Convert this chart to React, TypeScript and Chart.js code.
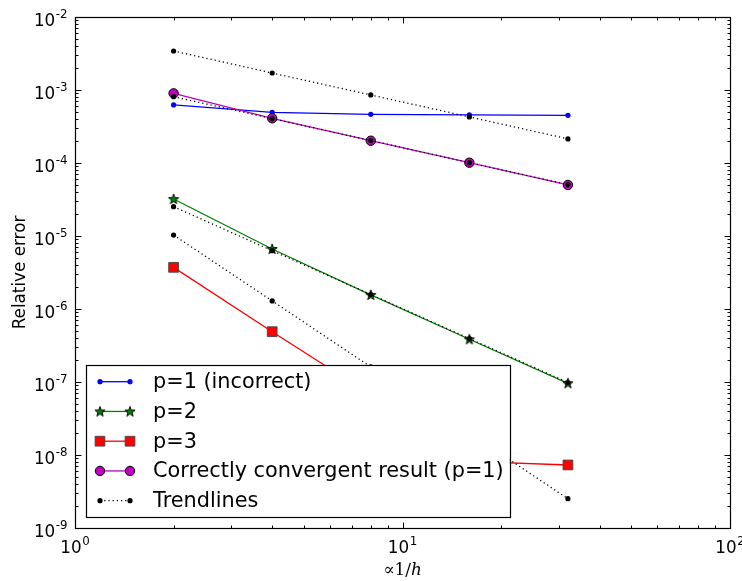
import { useEffect, useRef } from "react";
import { Chart, registerables } from "chart.js";

Chart.register(...registerables);

// Grid resolution (proportional to 1/h)
const resolution = [2, 4, 8, 16, 32];

// Measured relative errors
const errP1Incorrect = [6.24e-4, 4.94e-4, 4.65e-4, 4.55e-4, 4.5e-4];
const errP2 = [3.21e-5, 6.64e-6, 1.56e-6, 3.85e-7, 9.6e-8];
const errP3 = [3.72e-6, 4.89e-7, 6.7e-8, 8.2e-9, 7.3e-9];
const errP1Correct = [9.0e-4, 4.1e-4, 2.02e-4, 1.01e-4, 5.0e-5];

// Reference slopes
const trendFirstUpper = [3.42e-3, 1.71e-3, 8.55e-4, 4.28e-4, 2.14e-4];
const trendFirstLower = [8.1e-4, 4.05e-4, 2.03e-4, 1.01e-4, 5.06e-5];
const trendSecond = [2.52e-5, 6.3e-6, 1.58e-6, 3.94e-7, 9.85e-8];
const trendThird = [1.03e-5, 1.29e-6, 1.61e-7, 2.01e-8, 2.52e-9];

// Axis decades (powers of ten)
const xTickExponents = [0, 1, 2];
const yTickExponents = [-9, -8, -7, -6, -5, -4, -3, -2];

const legendLabels = [
  "p=1 (incorrect)",
  "p=2",
  "p=3",
  "Correctly convergent result (p=1)",
  "Trendlines",
];

const SANS = '"DejaVu Sans", sans-serif';
const SERIF = '"DejaVu Serif", serif';

function makeStar(): HTMLCanvasElement {
  const c = document.createElement("canvas");
  c.width = 14;
  c.height = 14;
  const ctx = c.getContext("2d")!;
  const cx = 7, cy = 7.3, R = 5.4, r = 2.2;
  ctx.beginPath();
  for (let i = 0; i < 10; i++) {
    const a = -Math.PI / 2 + (i * Math.PI) / 5;
    const rad = i % 2 === 0 ? R : r;
    const px = cx + rad * Math.cos(a);
    const py = cy + rad * Math.sin(a);
    if (i === 0) ctx.moveTo(px, py);
    else ctx.lineTo(px, py);
  }
  ctx.closePath();
  ctx.fillStyle = "#008000";
  ctx.fill();
  ctx.lineWidth = 0.9;
  ctx.strokeStyle = "#000";
  ctx.stroke();
  return c;
}

const toPoints = (ys: number[]) => resolution.map((x, i) => ({ x, y: ys[i] }));

type Marker = {
  style: any;
  radius: number;
  fill: string;
  edge: string;
  edgeWidth: number;
};

function drawMarker(ctx: CanvasRenderingContext2D, m: Marker, x: number, y: number) {
  if (m.style instanceof HTMLCanvasElement) {
    ctx.drawImage(m.style, x - m.style.width / 2, y - m.style.height / 2);
    return;
  }
  ctx.beginPath();
  if (m.style === "rect") {
    const s = m.radius * Math.SQRT1_2;
    ctx.rect(x - s, y - s, 2 * s, 2 * s);
  } else {
    ctx.arc(x, y, m.radius, 0, Math.PI * 2);
  }
  ctx.fillStyle = m.fill;
  ctx.fill();
  if (m.edgeWidth > 0) {
    ctx.lineWidth = m.edgeWidth;
    ctx.strokeStyle = m.edge;
    ctx.stroke();
  }
}

function drawPower(
  ctx: CanvasRenderingContext2D,
  exp: number,
  anchorX: number,
  baseline: number,
  align: "right" | "center"
) {
  const base = "10";
  const sup = exp < 0 ? "-" + Math.abs(exp) : String(exp);
  ctx.font = `16.8px ${SANS}`;
  const bw = ctx.measureText(base).width;
  ctx.font = `11.8px ${SANS}`;
  const sw = ctx.measureText(sup).width;
  const total = bw + sw + 0.5;
  const left = align === "right" ? anchorX - total : anchorX - total / 2;
  ctx.textAlign = "left";
  ctx.textBaseline = "alphabetic";
  ctx.fillStyle = "#000";
  ctx.font = `16.8px ${SANS}`;
  ctx.fillText(base, left, baseline);
  ctx.font = `11.8px ${SANS}`;
  ctx.fillText(sup, left + bw + 0.5, baseline - 8);
}

export default function App() {
  const canvasRef = useRef<HTMLCanvasElement | null>(null);

  useEffect(() => {
    const canvas = canvasRef.current;
    if (!canvas) return;

    const star = makeStar();

    const markers: Marker[] = [
      { style: "circle", radius: 2.6, fill: "#0000ff", edge: "#0000ff", edgeWidth: 0 },
      { style: star, radius: 5, fill: "#008000", edge: "#000", edgeWidth: 0.9 },
      { style: "rect", radius: 6.9, fill: "#ff0000", edge: "#444", edgeWidth: 0.9 },
      { style: "circle", radius: 4.7, fill: "#bf00bf", edge: "#000", edgeWidth: 1 },
      { style: "circle", radius: 2.6, fill: "#000", edge: "#000", edgeWidth: 0 },
    ];
    const lineColors = ["#0000ff", "#008000", "#ff0000", "#bf00bf", "#000"];

    const series = (
      ys: number[],
      idx: number,
      order: number,
      dashed = false
    ) => {
      const m = markers[idx];
      return {
        data: toPoints(ys),
        borderColor: lineColors[idx],
        borderWidth: 1.3,
        borderDash: dashed ? [1.2, 3] : [],
        pointStyle: m.style,
        pointRadius: m.radius,
        pointHoverRadius: m.radius,
        pointBackgroundColor: m.fill,
        pointBorderColor: m.edge,
        pointBorderWidth: m.edgeWidth,
        fill: false,
        tension: 0,
        order,
      };
    };

    const axesPlugin = {
      id: "mplAxes",
      afterDatasetsDraw(chart: any) {
        const ctx: CanvasRenderingContext2D = chart.ctx;
        const area = chart.chartArea;
        ctx.save();
        ctx.font = `20.8px ${SANS}`;
        const maxText = Math.max(...legendLabels.map((t) => ctx.measureText(t).width));
        const bx0 = area.left + 11;
        const by1 = area.bottom - 11;
        const by0 = by1 - 152;
        const textX = bx0 + 67;
        const bx1 = textX + maxText + 6;
        ctx.fillStyle = "#fff";
        ctx.fillRect(bx0, by0, bx1 - bx0, by1 - by0);
        ctx.lineWidth = 1.2;
        ctx.strokeStyle = "#000";
        ctx.strokeRect(Math.round(bx0) + 0.5, Math.round(by0) + 0.5, Math.round(bx1 - bx0), Math.round(by1 - by0));
        for (let i = 0; i < legendLabels.length; i++) {
          const y = by0 + 16.7 + i * 29.75;
          const x0 = bx0 + 14;
          const x1 = bx0 + 44;
          ctx.beginPath();
          ctx.moveTo(x0, y);
          ctx.lineTo(x1, y);
          ctx.strokeStyle = lineColors[i];
          ctx.lineWidth = 1.3;
          ctx.setLineDash(i === 4 ? [1.2, 3] : []);
          ctx.stroke();
          ctx.setLineDash([]);
          drawMarker(ctx, markers[i], x0, y);
          drawMarker(ctx, markers[i], x1, y);
          ctx.fillStyle = "#000";
          ctx.font = `20.8px ${SANS}`;
          ctx.textAlign = "left";
          ctx.textBaseline = "middle";
          ctx.fillText(legendLabels[i], textX, y + 1);
        }
        ctx.restore();
      },
      afterDraw(chart: any) {
        const ctx: CanvasRenderingContext2D = chart.ctx;
        const area = chart.chartArea;
        const xs = chart.scales.x;
        const ys = chart.scales.y;
        ctx.save();
        ctx.strokeStyle = "#000";
        ctx.lineWidth = 1.2;
        const L = Math.round(area.left) + 0.5;
        const R = Math.round(area.right) + 0.5;
        const T = Math.round(area.top) + 0.5;
        const B = Math.round(area.bottom) + 0.5;
        ctx.strokeRect(L, T, R - L, B - T);

        ctx.lineWidth = 1;
        const tick = (x0: number, y0: number, x1: number, y1: number) => {
          ctx.beginPath();
          ctx.moveTo(x0, y0);
          ctx.lineTo(x1, y1);
          ctx.stroke();
        };

        // x ticks (major at decades, minor at 2..9)
        const xMax = Math.max(...xTickExponents);
        for (const e of xTickExponents) {
          for (let m = 1; m <= 9; m++) {
            if (m > 1 && e === xMax) break;
            const px = Math.round(xs.getPixelForValue(m * Math.pow(10, e))) + 0.5;
            const len = m === 1 ? 6 : 3;
            tick(px, B, px, B - len);
            tick(px, T, px, T + len);
          }
        }
        // y ticks
        const yMax = Math.max(...yTickExponents);
        for (const e of yTickExponents) {
          for (let m = 1; m <= 9; m++) {
            if (m > 1 && e === yMax) break;
            const py = Math.round(ys.getPixelForValue(m * Math.pow(10, e))) + 0.5;
            const len = m === 1 ? 6 : 3;
            tick(L, py, L + len, py);
            tick(R, py, R - len, py);
          }
        }

        // tick labels
        for (const e of xTickExponents) {
          const px = xs.getPixelForValue(Math.pow(10, e));
          drawPower(ctx, e, px, area.bottom + 25, "center");
        }
        for (const e of yTickExponents) {
          const py = ys.getPixelForValue(Math.pow(10, e));
          drawPower(ctx, e, area.left - 7.5, py + 8.5, "right");
        }

        // y axis title
        ctx.save();
        ctx.translate(21, (area.top + area.bottom) / 2);
        ctx.rotate(-Math.PI / 2);
        ctx.font = `16.8px ${SANS}`;
        ctx.fillStyle = "#000";
        ctx.textAlign = "center";
        ctx.textBaseline = "middle";
        ctx.fillText("Relative error", 0, 0);
        ctx.restore();

        // x axis title: ∝1/h (h italic)
        ctx.font = `16.8px ${SERIF}`;
        const part1 = "\u221D1/";
        const w1 = ctx.measureText(part1).width;
        ctx.font = `italic 16.8px ${SERIF}`;
        const w2 = ctx.measureText("h").width;
        const cx = (area.left + area.right) / 2;
        const startX = cx - (w1 + w2) / 2;
        ctx.textAlign = "left";
        ctx.textBaseline = "alphabetic";
        ctx.fillStyle = "#000";
        ctx.font = `16.8px ${SERIF}`;
        ctx.fillText(part1, startX, area.bottom + 47);
        ctx.font = `italic 16.8px ${SERIF}`;
        ctx.fillText("h", startX + w1, area.bottom + 47);
        ctx.restore();
      },
    };

    const chart = new Chart(canvas, {
      type: "line",
      data: {
        datasets: [
          series(trendFirstUpper, 4, 0, true),
          series(trendFirstLower, 4, 0, true),
          series(trendSecond, 4, 0, true),
          series(trendThird, 4, 0, true),
          series(errP1Correct, 3, 1),
          series(errP3, 2, 2),
          series(errP2, 1, 3),
          series(errP1Incorrect, 0, 4),
        ] as any,
      },
      options: {
        animation: false,
        responsive: false,
        devicePixelRatio: 1,
        events: [],
        layout: { padding: { left: 75, right: 12, top: 17, bottom: 53 } },
        scales: {
          x: { type: "logarithmic", min: 1, max: 100, display: false },
          y: { type: "logarithmic", min: 1e-9, max: 1e-2, display: false },
        },
        plugins: {
          legend: { display: false },
          tooltip: { enabled: false },
        },
      },
      plugins: [axesPlugin],
    });

    return () => chart.destroy();
  }, []);

  return (
    <div style={{ position: "absolute", left: 0, top: 0, width: 742, height: 581, background: "#fff" }}>
      <canvas ref={canvasRef} width={742} height={581} />
    </div>
  );
}
